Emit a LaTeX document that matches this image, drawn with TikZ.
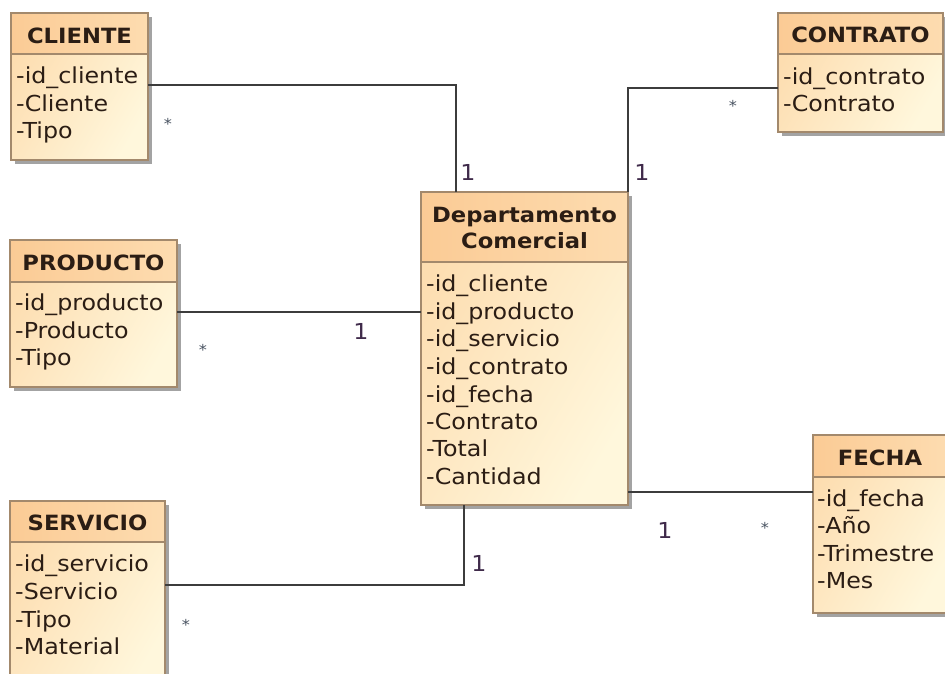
\documentclass[tikz,border=0pt]{standalone}
\usepackage{fontspec}
\setmainfont{DejaVu Sans}[FakeStretch=1.08]
\usetikzlibrary{shadows}
\definecolor{textc}{HTML}{2B1D14}
\definecolor{multc}{HTML}{3F2A4A}
\definecolor{starc}{HTML}{4A5462}
\definecolor{linec}{HTML}{3C3C3C}
\definecolor{borderc}{HTML}{A3896C}
\definecolor{hdrA}{HTML}{FBCB95}
\definecolor{hdrB}{HTML}{FDDCB0}
\definecolor{bodyA}{HTML}{FDDDB0}
\definecolor{bodyB}{HTML}{FFF7DC}
\tikzset{
  classbody/.style={draw=borderc, line width=1.3pt, inner sep=0pt, outer sep=0pt, anchor=north west,
    left color=bodyA, right color=bodyB, shading angle=60,
    drop shadow={shadow xshift=4pt, shadow yshift=-4pt, fill=black!45, opacity=0.8}},
  classhead/.style={draw=borderc, line width=1.3pt, inner sep=0pt, outer sep=0pt, anchor=north west,
    left color=hdrA, right color=hdrB},
  headtxt/.style={font=\fontsize{21}{26}\selectfont\bfseries, text=textc, anchor=base, inner sep=0pt},
  attr/.style={font=\fontsize{22}{27}\selectfont, text=textc, anchor=base west, inner sep=0pt},
  conn/.style={draw=linec, line width=1.6pt},
  mult/.style={font=\fontsize{22}{24}\selectfont, text=multc, inner sep=0pt},
  star/.style={font=\fontsize{15}{16}\selectfont, text=starc, inner sep=0pt},
}
\begin{document}
\begin{tikzpicture}[x=1pt,y=-1pt]
\useasboundingbox (0,0) rectangle (945,673);
\fill[white] (0,0) rectangle (945,673);

% CLIENTE
\node[classbody, minimum width=137pt, minimum height=147pt] (cliente) at (11,13) {};
\node[classhead, minimum width=137pt, minimum height=41pt] (clienteH) at (11,13) {};
\node[headtxt] (clienteT) at (79.5,43) {CLIENTE};
\node[attr] (cliente1) at (16,83) {-id\_cliente};
\node[attr] (cliente2) at (16,111) {-Cliente};
\node[attr] (cliente3) at (16,138) {-Tipo};

% CONTRATO
\node[classbody, minimum width=165pt, minimum height=119pt] (contrato) at (778,13) {};
\node[classhead, minimum width=165pt, minimum height=41pt] (contratoH) at (778,13) {};
\node[headtxt] (contratoT) at (860.5,42) {CONTRATO};
\node[attr] (contrato1) at (783,84) {-id\_contrato};
\node[attr] (contrato2) at (783,111) {-Contrato};

% PRODUCTO
\node[classbody, minimum width=167pt, minimum height=147pt] (producto) at (10,240) {};
\node[classhead, minimum width=167pt, minimum height=42pt] (productoH) at (10,240) {};
\node[headtxt] (productoT) at (93.5,270) {PRODUCTO};
\node[attr] (producto1) at (15,310) {-id\_producto};
\node[attr] (producto2) at (15,338) {-Producto};
\node[attr] (producto3) at (15,365) {-Tipo};

% SERVICIO
\node[classbody, minimum width=155pt, minimum height=190pt] (servicio) at (10,501) {};
\node[classhead, minimum width=155pt, minimum height=41pt] (servicioH) at (10,501) {};
\node[headtxt] (servicioT) at (87.5,530) {SERVICIO};
\node[attr] (servicio1) at (15,571) {-id\_servicio};
\node[attr] (servicio2) at (15,599) {-Servicio};
\node[attr] (servicio3) at (15,627) {-Tipo};
\node[attr] (servicio4) at (15,654) {-Material};

% FECHA
\node[classbody, minimum width=135pt, minimum height=178pt] (fecha) at (813,435) {};
\node[classhead, minimum width=135pt, minimum height=42pt] (fechaH) at (813,435) {};
\node[headtxt] (fechaT) at (880,465) {FECHA};
\node[attr] (fecha1) at (817,506) {-id\_fecha};
\node[attr] (fecha2) at (817,533) {-Año};
\node[attr] (fecha3) at (817,561) {-Trimestre};
\node[attr] (fecha4) at (817,588) {-Mes};

% Departamento Comercial
\node[classbody, minimum width=207pt, minimum height=313pt] (dc) at (421,192) {};
\node[classhead, minimum width=207pt, minimum height=70pt] (dcH) at (421,192) {};
\node[headtxt] (dcT1) at (524.5,222) {Departamento};
\node[headtxt] (dcT2) at (524.5,248) {Comercial};
\node[attr] (dc1) at (426,291) {-id\_cliente};
\node[attr] (dc2) at (426,319) {-id\_producto};
\node[attr] (dc3) at (426,346) {-id\_servicio};
\node[attr] (dc4) at (426,374) {-id\_contrato};
\node[attr] (dc5) at (426,402) {-id\_fecha};
\node[attr] (dc6) at (426,429) {-Contrato};
\node[attr] (dc7) at (426,456) {-Total};
\node[attr] (dc8) at (426,484) {-Cantidad};

% connectors
\draw[conn] ([yshift=1.5pt]cliente.east) -| ([xshift=35pt]dc.north west);
\draw[conn] (dc.north east) |- ([yshift=-15.5pt]contrato.west);
\draw[conn] ([yshift=1.5pt]producto.east) -- ([yshift=1.5pt]producto.east -| dc.west);
\draw[conn] ([yshift=11pt]servicio.east) -| ([xshift=43pt]dc.south west);
\draw[conn] ([yshift=13pt]dc.south east) -- ([yshift=13pt]dc.south east -| fecha.west);

% multiplicities
\node[star] (m1) at (168,124) {*};
\node[mult] (m2) at (468,172) {1};
\node[star] (m3) at (733,106) {*};
\node[mult] (m4) at (642,172) {1};
\node[star] (m5) at (203,350) {*};
\node[mult] (m6) at (361,331) {1};
\node[star] (m7) at (186,625) {*};
\node[mult] (m8) at (479,563) {1};
\node[mult] (m9) at (665,530) {1};
\node[star] (m10) at (765,528) {*};
\end{tikzpicture}
\end{document}
